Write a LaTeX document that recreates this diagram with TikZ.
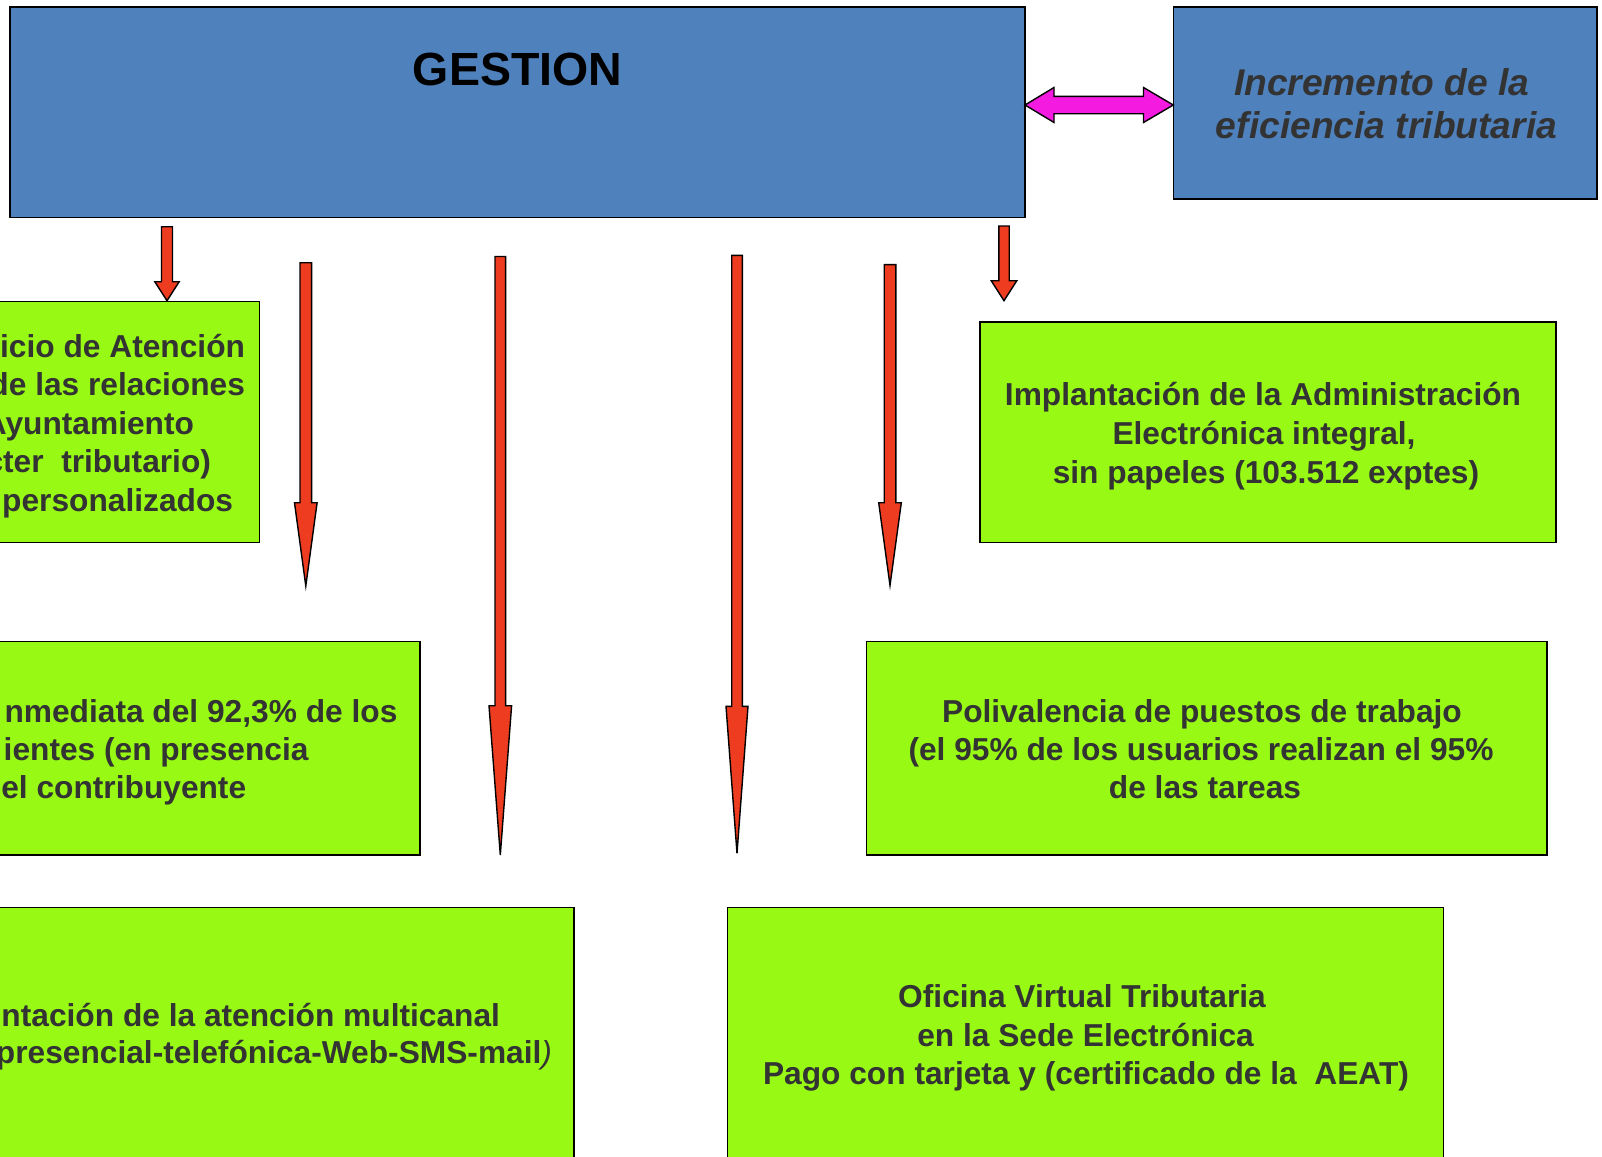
\documentclass[tikz,border=0pt]{standalone}
\usepackage{fontspec}
\setmainfont{Liberation Sans}
\definecolor{blueF}{RGB}{79,129,189}
\definecolor{greenF}{RGB}{152,250,20}
\definecolor{redA}{RGB}{238,60,32}
\definecolor{magA}{RGB}{244,26,224}
\definecolor{tgray}{RGB}{51,51,51}
\newcommand\bdarrow[6]{%
  \draw[redarrow] (#1-#5,#2) -- (#1+#5,#2) -- (#1+#5,#3) -- (#1+#6,#3) -- (#1,#4) -- (#1-#6,#3) -- (#1-#5,#3) -- cycle;}
\tikzset{
  bbox/.style={draw=black, line width=1.6pt, fill=blueF, inner sep=0, outer sep=0, anchor=north west},
  gbox/.style={draw=black, line width=1.6pt, fill=greenF, inner sep=0, outer sep=0, anchor=north west},
  redarrow/.style={draw=black, line width=1.4pt, fill=redA, line join=miter},
  magarrow/.style={draw=black, line width=1.4pt, fill=magA, line join=miter},
  txt/.style={inner sep=0, outer sep=0, text=tgray, font=\bfseries\fontsize{31.7}{37.5}\selectfont},
  ttl/.style={inner sep=0, outer sep=0, text=black, font=\bfseries\fontsize{46.5}{55}\selectfont},
  itx/.style={inner sep=0, outer sep=0, text=tgray, font=\bfseries\itshape\fontsize{37.2}{43.5}\selectfont},
}
\begin{document}
\begin{tikzpicture}[x=1pt,y=-1pt]
\useasboundingbox (0,0) rectangle (1602,1156);
\fill[white] (0,0) rectangle (1602,1156);
\clip (0,0) rectangle (1602,1156);

% top boxes
\node[bbox, minimum width=1014.5pt, minimum height=210.4pt] (gest) at (10.2,7.2) {};
\node[ttl, anchor=base] (gestt) at (517.5,85) {GESTION};
\node[bbox, minimum width=423.8pt, minimum height=192pt] (incr) at (1173.3,7.2) {};
\node[itx, anchor=base] (incr1) at (1381.8,95) {Incremento de la};
\node[itx, anchor=base] (incr2) at (1386.5,138.3) {eficiencia tributaria};

% magenta double arrow
\draw[magarrow] (1025,105) -- (1054,87.5) -- (1054,96.3) -- (1143.5,96.3) -- (1143.5,87.5) -- (1173.3,105)
  -- (1143.5,122.5) -- (1143.5,113.7) -- (1054,113.7) -- (1054,122.5) -- cycle;

% green boxes
\node[gbox, minimum width=279.5pt, minimum height=241pt] (bA) at (-20,301.5) {};
\node[txt, anchor=base east] (a1) at (245,357) {icio de Atención};
\node[txt, anchor=base east] (a2) at (245,395.5) {de las relaciones};
\node[txt, anchor=base east] (a3) at (194,434) {Ayuntamiento};
\node[txt, anchor=base east] (a4) at (211,472.5) {cter\ \ tributario)};
\node[txt, anchor=base east] (a5) at (233,511) {personalizados};

\node[gbox, minimum width=576.2pt, minimum height=220.7pt] (bD) at (979.8,321.8) {};
\node[txt, anchor=base] (d1) at (1263,405) {Implantación de la Administración};
\node[txt, anchor=base] (d2) at (1264,444.5) {Electrónica integral,};
\node[txt, anchor=base] (d3) at (1266,483) {sin papeles (103.512 exptes)};

\node[gbox, minimum width=440pt, minimum height=213.6pt] (bB) at (-20,641.6) {};
\node[txt, anchor=base east] (b1) at (397.4,722.5) {nmediata del 92,3\% de los};
\node[txt, anchor=base east] (b2) at (308.5,760.5) {ientes (en presencia};
\node[txt, anchor=base east] (b3) at (246.2,798.5) {el contribuyente};

\node[gbox, minimum width=680.4pt, minimum height=213.6pt] (bC) at (866.4,641.6) {};
\node[txt, anchor=base] (c1) at (1202,722.5) {Polivalencia de puestos de trabajo};
\node[txt, anchor=base] (c2) at (1201,760.5) {(el 95\% de los usuarios realizan el 95\%};
\node[txt, anchor=base] (c3) at (1205,798.3) {de las tareas};

\node[gbox, minimum width=594.2pt, minimum height=272.5pt] (bE) at (-20,907.5) {};
\node[txt, anchor=base east] (e1) at (500,1026.7) {ntación de la atención multicanal};
\node[txt, anchor=base east] (e2) at (552,1063) {presencial-telefónica-Web-SMS-mail{\mdseries\itshape )}};

\node[gbox, minimum width=716.2pt, minimum height=272.5pt] (bF) at (727.4,907.5) {};
\node[txt, anchor=base] (f1) at (1082,1007.5) {Oficina Virtual Tributaria};
\node[txt, anchor=base] (f2) at (1085.5,1046) {en la Sede Electrónica};
\node[txt, anchor=base] (f3) at (1086,1084.5) {Pago con tarjeta y (certificado de la\ \ AEAT)};

% red block arrows
\bdarrow{167}{226.7}{281.7}{300.7}{5.5}{12.2}
\bdarrow{305.8}{262.7}{502.7}{586}{5.8}{11.3}
\bdarrow{500.3}{256.5}{705.7}{855}{5.3}{11.3}
\bdarrow{737}{255.4}{706.3}{853.3}{5.3}{11}
\bdarrow{890}{264.6}{502.7}{585.4}{5.8}{11.3}
\bdarrow{1004}{226}{280.7}{300.7}{5.2}{12.8}
\end{tikzpicture}
\end{document}
